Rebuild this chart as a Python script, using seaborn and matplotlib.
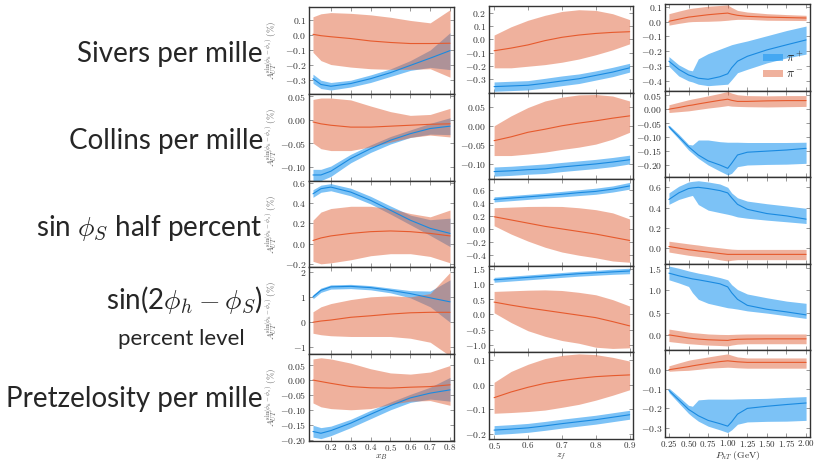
import matplotlib
matplotlib.use('Agg')
import matplotlib.pyplot as plt
from matplotlib.patches import Patch
import seaborn as sns

# x grids
xb = [0.11, 0.15, 0.2, 0.3, 0.4, 0.5, 0.6, 0.7, 0.8]
zf = [0.5, 0.55, 0.6, 0.65, 0.7, 0.75, 0.8, 0.85, 0.9]
pht = [0.25, 0.375, 0.5, 0.55, 0.625, 0.75, 0.9, 1.0, 1.05, 1.125, 1.25, 1.5, 1.75, 2.0]

# ---- Sivers ----
siv_xb_pip = [-0.29, -0.328, -0.34, -0.322, -0.29, -0.25, -0.202, -0.154, -0.104]
siv_xb_pip_hi = [-0.26, -0.30, -0.315, -0.30, -0.265, -0.225, -0.17, -0.10, 0.015]
siv_xb_pip_lo = [-0.32, -0.355, -0.365, -0.345, -0.315, -0.275, -0.235, -0.215, -0.23]
siv_xb_pim = [0.004, -0.005, -0.012, -0.024, -0.04, -0.05, -0.057, -0.057, -0.055]
siv_xb_pim_hi = [0.12, 0.14, 0.148, 0.143, 0.133, 0.117, 0.096, 0.08, 0.167]
siv_xb_pim_lo = [-0.115, -0.17, -0.196, -0.213, -0.224, -0.228, -0.228, -0.224, -0.28]

siv_zf_pip = [-0.355, -0.35, -0.345, -0.33, -0.313, -0.296, -0.271, -0.246, -0.214]
siv_zf_pip_hi = [-0.32, -0.315, -0.31, -0.293, -0.275, -0.26, -0.237, -0.21, -0.18]
siv_zf_pip_lo = [-0.39, -0.385, -0.38, -0.365, -0.348, -0.332, -0.306, -0.28, -0.246]
siv_zf_pim = [-0.086, -0.066, -0.042, -0.01, 0.015, 0.032, 0.044, 0.052, 0.057]
siv_zf_pim_hi = [0.032, 0.094, 0.143, 0.18, 0.209, 0.222, 0.217, 0.192, 0.148]
siv_zf_pim_lo = [-0.214, -0.214, -0.202, -0.19, -0.172, -0.148, -0.116, -0.079, -0.034]

siv_pt_pip = [-0.266, -0.32, -0.358, -0.366, -0.38, -0.387, -0.37, -0.35, -0.31, -0.266, -0.233, -0.19, -0.156, -0.123]
siv_pt_pip_hi = [-0.235, -0.29, -0.325, -0.33, -0.25, -0.215, -0.185, -0.165, -0.155, -0.145, -0.13, -0.095, -0.06, -0.03]
siv_pt_pip_lo = [-0.3, -0.365, -0.398, -0.405, -0.42, -0.43, -0.424, -0.42, -0.39, -0.343, -0.32, -0.277, -0.244, -0.218]
siv_pt_pim = [0.002, 0.016, 0.03, 0.033, 0.038, 0.046, 0.053, 0.057, 0.05, 0.042, 0.035, 0.03, 0.027, 0.024]
siv_pt_pim_hi = [0.053, 0.07, 0.086, 0.09, 0.095, 0.103, 0.108, 0.112, 0.095, 0.075, 0.064, 0.053, 0.047, 0.042]
siv_pt_pim_lo = [-0.024, -0.012, -0.002, 0.0, 0.001, 0.002, 0.005, 0.009, 0.012, 0.015, 0.015, 0.009, 0.008, 0.007]

# ---- Collins ----
col_xb_pip = [-0.118, -0.118, -0.11, -0.083, -0.062, -0.044, -0.03, -0.019, -0.014]
col_xb_pip_hi = [-0.106, -0.106, -0.099, -0.074, -0.054, -0.036, -0.022, -0.008, 0.004]
col_xb_pip_lo = [-0.13, -0.13, -0.121, -0.092, -0.07, -0.052, -0.038, -0.031, -0.032]
col_xb_pim = [-0.005, -0.009, -0.012, -0.016, -0.016, -0.014, -0.012, -0.01, -0.009]
col_xb_pim_hi = [0.043, 0.046, 0.046, 0.042, 0.029, 0.017, 0.009, 0.011, 0.024]
col_xb_pim_lo = [-0.05, -0.062, -0.066, -0.066, -0.058, -0.048, -0.038, -0.033, -0.037]

col_zf_pip = [-0.12, -0.118, -0.115, -0.113, -0.108, -0.104, -0.1, -0.095, -0.089]
col_zf_pip_hi = [-0.108, -0.106, -0.103, -0.1, -0.096, -0.092, -0.088, -0.083, -0.077]
col_zf_pip_lo = [-0.132, -0.13, -0.127, -0.125, -0.12, -0.116, -0.112, -0.107, -0.1]
col_zf_pim = [-0.039, -0.029, -0.017, -0.009, 0.0, 0.007, 0.013, 0.02, 0.026]
col_zf_pim_hi = [0.0, 0.026, 0.048, 0.065, 0.075, 0.081, 0.082, 0.078, 0.065]
col_zf_pim_lo = [-0.078, -0.078, -0.074, -0.069, -0.062, -0.056, -0.048, -0.035, -0.017]

col_pt_pip = [-0.063, -0.099, -0.135, -0.147, -0.165, -0.186, -0.201, -0.213, -0.195, -0.165, -0.155, -0.151, -0.147, -0.141]
col_pt_pip_hi = [-0.057, -0.09, -0.127, -0.129, -0.111, -0.111, -0.117, -0.119, -0.119, -0.119, -0.12, -0.12, -0.12, -0.119]
col_pt_pip_lo = [-0.069, -0.107, -0.147, -0.159, -0.177, -0.201, -0.223, -0.237, -0.231, -0.207, -0.201, -0.199, -0.198, -0.195]
col_pt_pim = [0.0, 0.006, 0.013, 0.015, 0.019, 0.025, 0.032, 0.036, 0.032, 0.028, 0.028, 0.03, 0.031, 0.031]
col_pt_pim_hi = [0.016, 0.025, 0.034, 0.037, 0.041, 0.048, 0.057, 0.064, 0.058, 0.052, 0.049, 0.048, 0.049, 0.049]
col_pt_pim_lo = [-0.012, -0.009, -0.006, -0.004, -0.001, 0.004, 0.009, 0.013, 0.011, 0.01, 0.009, 0.008, 0.009, 0.01]

# ---- sin(phi_S) ----
sis_xb_pip = [0.49, 0.54, 0.556, 0.507, 0.426, 0.328, 0.23, 0.15, 0.10]
sis_xb_pip_hi = [0.53, 0.575, 0.59, 0.545, 0.465, 0.37, 0.28, 0.235, 0.25]
sis_xb_pip_lo = [0.455, 0.505, 0.52, 0.47, 0.39, 0.29, 0.185, 0.08, -0.03]
sis_xb_pim = [0.03, 0.055, 0.075, 0.1, 0.117, 0.124, 0.117, 0.1, 0.075]
sis_xb_pim_hi = [0.23, 0.31, 0.345, 0.367, 0.367, 0.345, 0.296, 0.263, 0.33]
sis_xb_pim_lo = [-0.175, -0.2, -0.19, -0.16, -0.12, -0.1, -0.1, -0.127, -0.19]

sis_zf_pip = [0.46, 0.48, 0.5, 0.52, 0.54, 0.565, 0.585, 0.62, 0.67]
sis_zf_pip_hi = [0.5, 0.52, 0.54, 0.56, 0.585, 0.61, 0.635, 0.67, 0.725]
sis_zf_pip_lo = [0.42, 0.44, 0.46, 0.48, 0.5, 0.52, 0.54, 0.575, 0.62]
sis_zf_pim = [0.19, 0.14, 0.09, 0.04, 0.0, -0.04, -0.08, -0.13, -0.18]
sis_zf_pim_hi = [0.33, 0.34, 0.35, 0.352, 0.35, 0.33, 0.3, 0.25, 0.155]
sis_zf_pim_lo = [0.05, -0.08, -0.19, -0.285, -0.36, -0.41, -0.45, -0.5, -0.52]

sis_pt_pip = [0.48, 0.545, 0.588, 0.594, 0.6, 0.588, 0.568, 0.545, 0.497, 0.432, 0.383, 0.341, 0.318, 0.286]
sis_pt_pip_hi = [0.545, 0.61, 0.653, 0.659, 0.665, 0.653, 0.633, 0.6, 0.545, 0.497, 0.464, 0.438, 0.416, 0.393]
sis_pt_pip_lo = [0.432, 0.48, 0.51, 0.52, 0.43, 0.375, 0.35, 0.334, 0.325, 0.308, 0.295, 0.276, 0.26, 0.243]
sis_pt_pim = [0.016, 0.0, -0.016, -0.02, -0.028, -0.039, -0.053, -0.062, -0.062, -0.062, -0.062, -0.062, -0.062, -0.062]
sis_pt_pim_hi = [0.068, 0.055, 0.042, 0.037, 0.03, 0.016, 0.003, -0.006, -0.01, -0.013, -0.013, -0.013, -0.013, -0.013]
sis_pt_pim_lo = [-0.039, -0.055, -0.071, -0.076, -0.083, -0.094, -0.115, -0.127, -0.12, -0.114, -0.114, -0.114, -0.114, -0.114]

# ---- sin(2phi_h - phi_S) ----
s2h_xb_pip = [1.02, 1.28, 1.42, 1.44, 1.39, 1.28, 1.15, 0.98, 0.82]
s2h_xb_pip_hi = [1.1, 1.37, 1.5, 1.52, 1.47, 1.37, 1.27, 1.25, 1.7]
s2h_xb_pip_lo = [0.94, 1.2, 1.33, 1.35, 1.3, 1.18, 0.98, 0.62, 0.0]
s2h_xb_pim = [0.0, 0.05, 0.09, 0.2, 0.26, 0.33, 0.38, 0.4, 0.4]
s2h_xb_pim_hi = [0.42, 0.62, 0.75, 0.91, 1.02, 1.06, 1.02, 1.15, 2.0]
s2h_xb_pim_lo = [-0.44, -0.5, -0.54, -0.57, -0.57, -0.57, -0.64, -0.8, -1.35]

s2h_zf_pip = [1.13, 1.17, 1.21, 1.25, 1.29, 1.33, 1.36, 1.39, 1.42]
s2h_zf_pip_hi = [1.21, 1.25, 1.29, 1.33, 1.37, 1.41, 1.44, 1.48, 1.51]
s2h_zf_pip_lo = [1.05, 1.09, 1.13, 1.17, 1.21, 1.25, 1.28, 1.31, 1.33]
s2h_zf_pim = [0.4, 0.3, 0.21, 0.13, 0.05, -0.03, -0.11, -0.24, -0.38]
s2h_zf_pim_hi = [0.75, 0.77, 0.79, 0.8, 0.78, 0.72, 0.64, 0.48, 0.27]
s2h_zf_pim_lo = [0.05, -0.27, -0.54, -0.72, -0.86, -0.95, -1.08, -1.12, -1.1]

s2h_pt_pip = [1.39, 1.33, 1.28, 1.26, 1.24, 1.2, 1.15, 1.08, 0.95, 0.8, 0.665, 0.576, 0.517, 0.45]
s2h_pt_pip_hi = [1.55, 1.5, 1.44, 1.42, 1.39, 1.35, 1.29, 1.24, 1.13, 1.02, 0.92, 0.835, 0.76, 0.71]
s2h_pt_pip_lo = [1.24, 1.17, 1.09, 0.95, 0.8, 0.71, 0.65, 0.61, 0.6, 0.58, 0.54, 0.49, 0.43, 0.37]
s2h_pt_pim = [0.0, -0.035, -0.07, -0.08, -0.095, -0.11, -0.12, -0.125, -0.11, -0.1, -0.095, -0.09, -0.09, -0.09]
s2h_pt_pim_hi = [0.13, 0.095, 0.06, 0.05, 0.04, 0.02, 0.01, 0.007, 0.01, 0.015, 0.02, 0.02, 0.02, 0.02]
s2h_pt_pim_lo = [-0.15, -0.175, -0.2, -0.205, -0.215, -0.23, -0.24, -0.25, -0.23, -0.21, -0.2, -0.2, -0.2, -0.2]

# ---- Pretzelosity ----
pre_xb_pip = [-0.173, -0.179, -0.17, -0.145, -0.115, -0.086, -0.06, -0.044, -0.033]
pre_xb_pip_hi = [-0.152, -0.16, -0.155, -0.132, -0.102, -0.074, -0.048, -0.024, 0.009]
pre_xb_pip_lo = [-0.192, -0.197, -0.187, -0.16, -0.13, -0.1, -0.075, -0.064, -0.071]
pre_xb_pim = [0.0, -0.005, -0.011, -0.022, -0.026, -0.027, -0.024, -0.022, -0.016]
pre_xb_pim_hi = [0.071, 0.075, 0.071, 0.057, 0.038, 0.024, 0.02, 0.027, 0.049]
pre_xb_pim_lo = [-0.077, -0.09, -0.096, -0.1, -0.096, -0.082, -0.071, -0.069, -0.085]

pre_zf_pip = [-0.184, -0.18, -0.175, -0.167, -0.158, -0.15, -0.142, -0.132, -0.122]
pre_zf_pip_hi = [-0.166, -0.162, -0.157, -0.149, -0.14, -0.132, -0.124, -0.114, -0.104]
pre_zf_pip_lo = [-0.202, -0.198, -0.193, -0.185, -0.176, -0.168, -0.16, -0.15, -0.14]
pre_zf_pim = [-0.053, -0.03, -0.011, 0.005, 0.016, 0.025, 0.032, 0.036, 0.039]
pre_zf_pim_hi = [0.009, 0.053, 0.082, 0.105, 0.118, 0.124, 0.121, 0.11, 0.095]
pre_zf_pim_lo = [-0.116, -0.113, -0.109, -0.103, -0.092, -0.08, -0.063, -0.043, -0.021]

pre_pt_pip = [-0.107, -0.156, -0.205, -0.218, -0.238, -0.262, -0.279, -0.292, -0.27, -0.23, -0.2, -0.189, -0.18, -0.172]
pre_pt_pip_hi = [-0.095, -0.139, -0.184, -0.189, -0.156, -0.152, -0.152, -0.152, -0.152, -0.151, -0.15, -0.148, -0.143, -0.139]
pre_pt_pip_lo = [-0.118, -0.172, -0.226, -0.243, -0.266, -0.292, -0.311, -0.325, -0.311, -0.282, -0.27, -0.267, -0.266, -0.262]
pre_pt_pim = [0.0, 0.008, 0.016, 0.02, 0.025, 0.033, 0.042, 0.046, 0.044, 0.041, 0.038, 0.038, 0.038, 0.038]
pre_pt_pim_hi = [0.02, 0.035, 0.049, 0.053, 0.058, 0.066, 0.076, 0.082, 0.075, 0.066, 0.061, 0.061, 0.061, 0.061]
pre_pt_pim_lo = [-0.008, -0.005, -0.003, -0.001, 0.002, 0.008, 0.011, 0.013, 0.012, 0.01, 0.008, 0.008, 0.008, 0.008]

# row labels
row_labels = ['Sivers per mille', 'Collins per mille', r'sin $\phi_S$ half percent',
              'sin(2$\\phi_h - \\phi_S$)', 'percent level', 'Pretzelosity per mille']

# axis settings
ylims = [[(-0.39, 0.185), (-0.40, 0.25), (-0.463, 0.118)],
         [(-0.13, 0.055), (-0.14, 0.087), (-0.245, 0.067)],
         [(-0.235, 0.62), (-0.575, 0.775), (-0.155, 0.7)],
         [(-1.28, 2.2), (-1.25, 1.59), (-0.35, 1.6)],
         [(-0.205, 0.087), (-0.22, 0.13), (-0.348, 0.1)]]
yticks = [[[-0.3, -0.2, -0.1, 0.0, 0.1], [-0.3, -0.2, -0.1, 0.0, 0.1, 0.2], [-0.4, -0.3, -0.2, -0.1, 0.0, 0.1]],
          [[-0.10, -0.05, 0.00, 0.05], [-0.10, -0.05, 0.00, 0.05], [-0.20, -0.15, -0.10, -0.05, 0.00, 0.05]],
          [[-0.2, 0.0, 0.2, 0.4, 0.6], [-0.4, -0.2, 0.0, 0.2, 0.4, 0.6], [0.0, 0.2, 0.4, 0.6]],
          [[-1, 0, 1, 2], [-1.0, -0.5, 0.0, 0.5, 1.0, 1.5], [0.0, 0.5, 1.0, 1.5]],
          [[-0.20, -0.15, -0.10, -0.05, 0.00, 0.05], [-0.2, -0.1, 0.0, 0.1], [-0.3, -0.2, -0.1, 0.0]]]
ydec = [[1, 1, 1], [2, 2, 2], [1, 1, 1], [0, 1, 1], [2, 1, 1]]
xlims = [(0.09, 0.82), (0.485, 0.91), (0.2, 2.05)]
xticks = [[0.2, 0.3, 0.4, 0.5, 0.6, 0.7, 0.8], [0.5, 0.6, 0.7, 0.8, 0.9],
          [0.25, 0.5, 0.75, 1.0, 1.25, 1.5, 1.75, 2.0]]
xdec = [1, 1, 2]
xlabels = [r'$x_B$', r'$z_f$', r'$P_{hT}\ \mathrm{(GeV)}$']

grids = [xb, zf, pht]
curves = [
    [(siv_xb_pip, siv_xb_pip_lo, siv_xb_pip_hi, siv_xb_pim, siv_xb_pim_lo, siv_xb_pim_hi),
     (siv_zf_pip, siv_zf_pip_lo, siv_zf_pip_hi, siv_zf_pim, siv_zf_pim_lo, siv_zf_pim_hi),
     (siv_pt_pip, siv_pt_pip_lo, siv_pt_pip_hi, siv_pt_pim, siv_pt_pim_lo, siv_pt_pim_hi)],
    [(col_xb_pip, col_xb_pip_lo, col_xb_pip_hi, col_xb_pim, col_xb_pim_lo, col_xb_pim_hi),
     (col_zf_pip, col_zf_pip_lo, col_zf_pip_hi, col_zf_pim, col_zf_pim_lo, col_zf_pim_hi),
     (col_pt_pip, col_pt_pip_lo, col_pt_pip_hi, col_pt_pim, col_pt_pim_lo, col_pt_pim_hi)],
    [(sis_xb_pip, sis_xb_pip_lo, sis_xb_pip_hi, sis_xb_pim, sis_xb_pim_lo, sis_xb_pim_hi),
     (sis_zf_pip, sis_zf_pip_lo, sis_zf_pip_hi, sis_zf_pim, sis_zf_pim_lo, sis_zf_pim_hi),
     (sis_pt_pip, sis_pt_pip_lo, sis_pt_pip_hi, sis_pt_pim, sis_pt_pim_lo, sis_pt_pim_hi)],
    [(s2h_xb_pip, s2h_xb_pip_lo, s2h_xb_pip_hi, s2h_xb_pim, s2h_xb_pim_lo, s2h_xb_pim_hi),
     (s2h_zf_pip, s2h_zf_pip_lo, s2h_zf_pip_hi, s2h_zf_pim, s2h_zf_pim_lo, s2h_zf_pim_hi),
     (s2h_pt_pip, s2h_pt_pip_lo, s2h_pt_pip_hi, s2h_pt_pim, s2h_pt_pim_lo, s2h_pt_pim_hi)],
    [(pre_xb_pip, pre_xb_pip_lo, pre_xb_pip_hi, pre_xb_pim, pre_xb_pim_lo, pre_xb_pim_hi),
     (pre_zf_pip, pre_zf_pip_lo, pre_zf_pip_hi, pre_zf_pim, pre_zf_pim_lo, pre_zf_pim_hi),
     (pre_pt_pip, pre_pt_pip_lo, pre_pt_pip_hi, pre_pt_pim, pre_pt_pim_lo, pre_pt_pim_hi)],
]

blue_fill = '#1e96f0'
blue_line = '#1a8ae0'
orange_fill = '#e1643c'
orange_line = '#e65a2d'

sns.set_style('ticks')
plt.rcParams['font.family'] = ['Lato', 'DejaVu Sans']
plt.rcParams['mathtext.fontset'] = 'cm'

W, H = 814, 462
fig = plt.figure(figsize=(W / 100, H / 100), dpi=100)

# column boxes in pixels: left, right, top, bottom
col_box = [(309, 454, 7, 441), (489, 633, 6, 439), (665, 810, 4, 437)]

def fmt(v, d):
    return '$' + ('%.*f' % (d, v)) + '$'

axes = [[None] * 3 for _ in range(5)]
for c in range(3):
    l, r, t, b = col_box[c]
    rh = (b - t) / 5
    for row in range(5):
        y_top = t + row * rh
        ax = fig.add_axes([l / W, 1 - (y_top + rh) / H, (r - l) / W, rh / H])
        axes[row][c] = ax
        x = grids[c]
        pip, pip_lo, pip_hi, pim, pim_lo, pim_hi = curves[row][c]
        ax.fill_between(x, pip_lo, pip_hi, color=blue_fill, alpha=0.58, lw=0)
        sns.lineplot(x=x, y=pip, ax=ax, color=blue_line, lw=0.8)
        ax.fill_between(x, pim_lo, pim_hi, color=orange_fill, alpha=0.5, lw=0)
        sns.lineplot(x=x, y=pim, ax=ax, color=orange_line, lw=0.8)
        ax.set_xlim(*xlims[c])
        ax.set_ylim(*ylims[row][c])
        ax.set_yticks(yticks[row][c], [fmt(v, ydec[row][c]) for v in yticks[row][c]])
        ax.tick_params(direction='in', length=3, width=0.6, color='#888888',
                       labelsize=7, labelcolor='#333333', pad=2,
                       top=True, right=True)
        if row == 4:
            ax.set_xticks(xticks[c], [fmt(v, xdec[c]) for v in xticks[c]])
            ax.tick_params(axis='x', pad=1, labelsize=6.5)
            ax.set_xlabel(xlabels[c], fontsize=7, color='#333333', va='bottom')
            # keep the label at the figure's bottom edge
            ax.xaxis.set_label_coords(0.5, -(H - b) / rh, transform=ax.transAxes)
        else:
            ax.set_xticks(xticks[c], [''] * len(xticks[c]))
            ax.set_xlabel('')
        for s in ax.spines.values():
            s.set_color('#333333')
            s.set_linewidth(1.0)
        if c == 0:
            ax.set_ylabel(r'$A_{UT}^{\sin(\phi_h-\phi_s)}\ (\%)$', fontsize=6.5, color='#555555')
            ax.yaxis.set_label_coords(-0.205, 0.5)
        else:
            ax.set_ylabel('')

# legend in the top-right panel
handles = [Patch(facecolor=blue_fill, alpha=0.58, lw=0), Patch(facecolor=orange_fill, alpha=0.5, lw=0)]
axes[0][2].legend(handles, [r'$\pi^+$', r'$\pi^-$'], loc='lower right', frameon=False,
                  fontsize=9, handlelength=1.6, handleheight=0.5, handletextpad=0.2,
                  labelspacing=0.3, borderaxespad=0.1, bbox_to_anchor=(1.0, 0.05))

# big row labels on the left
fs = 20
fig.text(263 / W, 1 - 54 / H, row_labels[0], ha='right', va='center', fontsize=fs)
fig.text(263 / W, 1 - 141 / H, row_labels[1], ha='right', va='center', fontsize=fs)
fig.text(263 / W, 1 - 228 / H, row_labels[2], ha='right', va='center', fontsize=fs)
fig.text(184 / W, 1 - 300 / H, row_labels[3], ha='center', va='center', fontsize=fs)
fig.text(181 / W, 1 - 339 / H, row_labels[4], ha='center', va='center', fontsize=16)
fig.text(263 / W, 1 - 399 / H, row_labels[5], ha='right', va='center', fontsize=fs)

fig.savefig('out.png', dpi=100)
